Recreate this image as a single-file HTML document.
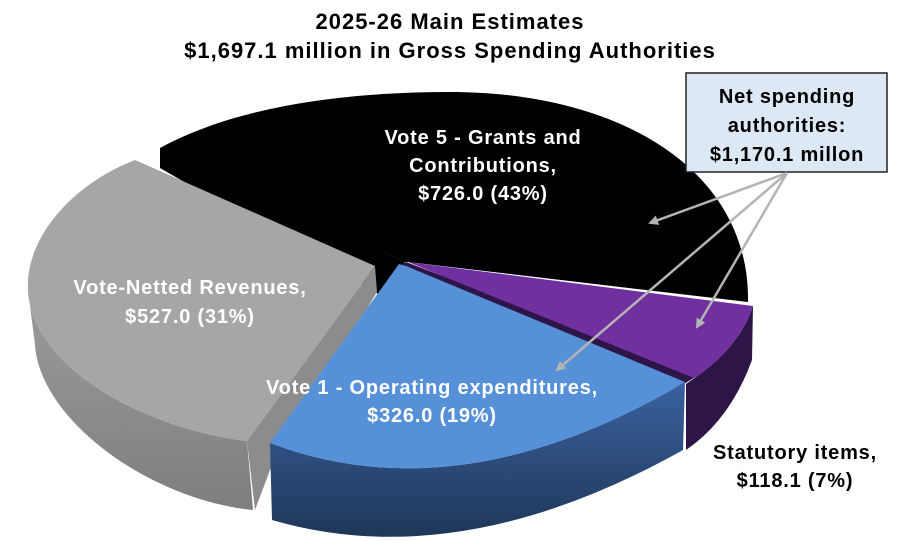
<!DOCTYPE html>
<html><head><meta charset="utf-8"><style>
body{margin:0;background:#fff;}
svg{display:block;font-family:"Liberation Sans",sans-serif;font-weight:bold;}
</style></head><body>
<svg width="897" height="541" viewBox="0 0 897 541" xmlns="http://www.w3.org/2000/svg">
<defs>
<linearGradient id="gs" x1="0" y1="0" x2="0" y2="1"><stop offset="0" stop-color="#9c9c9c"/><stop offset="1" stop-color="#7e7e7e"/></linearGradient>
<linearGradient id="bs" x1="0" y1="0" x2="0" y2="1"><stop offset="0" stop-color="#3a62a0"/><stop offset="1" stop-color="#1f3658"/></linearGradient>
<marker id="ah" markerWidth="10" markerHeight="10" refX="8" refY="5" orient="auto" markerUnits="userSpaceOnUse"><path d="M0,0 L10,5 L0,10 Z" fill="#b4b4b4"/></marker>
</defs>
<g font-size="22" letter-spacing="1" text-anchor="middle" fill="#000">
<text x="450" y="29">2025-26 Main Estimates</text>
<text x="450" y="58">$1,697.1 million in Gross Spending Authorities</text>
</g>
<!-- black -->
<path d="M405,262 L160,150 L160,148 C230,110 330,92 450,92 C620,92 750,170 748,302 L408,262 Z" fill="#000"/>
<path d="M160,148 L160,168 L380,295 L405,262 Z" fill="#000"/>
<!-- purple -->
<path d="M753,306 L752,360 Q730,420 686,450 L686,384 L700,374 Q740,345 753,306 Z" fill="#2e1547"/>
<path d="M406,262 L700,374 L684,384 L684,390 L400,266 Z" fill="#2e1547"/>
<path d="M408,262 L753,306 Q740,345 700,374 L694,378 Z" fill="#7030a0"/>
<!-- gray -->
<path d="M28,290 C32,370 150,430 247,441 L253,510 C150,500 40,420 35,345 Z" fill="url(#gs)"/>
<path d="M375,266 L377,292 L270,470 L255,510 L247,441 Z" fill="#8c8c8c"/>
<path d="M375,266 L135,160 C70,185 25,240 28,290 C32,370 150,430 247,441 Z" fill="#a6a6a6"/>
<!-- blue -->
<path d="M270,443 Q460,515 685,382 L683,450 Q460,575 272,520 Z" fill="url(#bs)"/>
<path d="M399,264 L270,443 Q460,515 685,382 L406,266 Z" fill="#5590d8"/>
<!-- labels -->
<g font-size="20" letter-spacing="0.8" fill="#fff" text-anchor="middle">
<text x="483" y="144">Vote 5 - Grants and</text>
<text x="483" y="172">Contributions,</text>
<text x="483" y="200">$726.0  (43%)</text>
<text x="190" y="294">Vote-Netted Revenues,</text>
<text x="190" y="323">$527.0  (31%)</text>
<text x="432" y="394">Vote 1 - Operating expenditures,</text>
<text x="432" y="422">$326.0  (19%)</text>
</g>
<g font-size="20" letter-spacing="0.8" fill="#000" text-anchor="middle">
<text x="795" y="459">Statutory items,</text>
<text x="795" y="487">$118.1  (7%)</text>
</g>
<!-- callout -->
<rect x="686" y="73" width="201" height="99" fill="#dde8f5" stroke="#222" stroke-width="1.5"/>
<g font-size="20" letter-spacing="0.8" fill="#000" text-anchor="middle">
<text x="787" y="103">Net spending</text>
<text x="787" y="132">authorities:</text>
<text x="787" y="161">$1,170.1 millon</text>
</g>
<g stroke="#b4b4b4" stroke-width="2.5" fill="none" marker-end="url(#ah)">
<line x1="787" y1="173" x2="650" y2="223"/>
<line x1="787" y1="173" x2="557" y2="370"/>
<line x1="787" y1="173" x2="697" y2="327"/>
</g>
</svg>
</body></html>
